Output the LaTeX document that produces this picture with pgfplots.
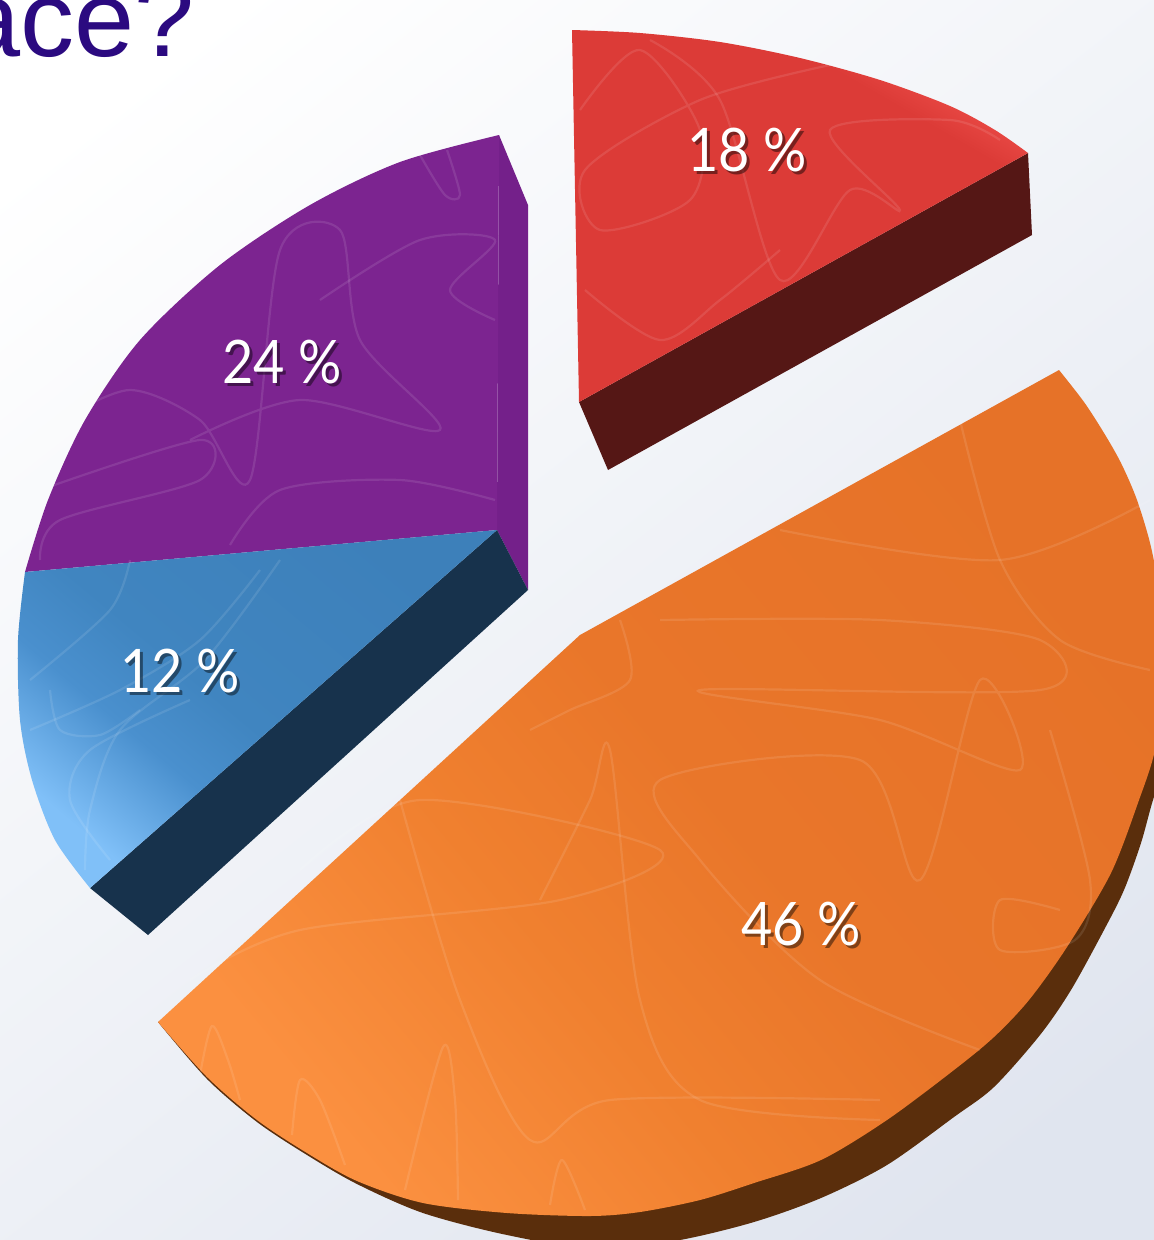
\documentclass[border=0pt]{standalone}
\usepackage{pgfplots}
\pgfplotsset{compat=1.18}
\usepackage{fontspec}
\setmainfont{Liberation Sans}
\newfontfamily\gill{Lato}
\definecolor{titlec}{HTML}{2B0A80}
\definecolor{redface}{HTML}{DC3B37}
\definecolor{redlight}{HTML}{F0504C}
\definecolor{redside}{HTML}{551715}
\definecolor{purpface}{HTML}{7C2490}
\definecolor{purpside}{HTML}{74208A}
\definecolor{blueside}{HTML}{17324C}
\definecolor{orangeside}{HTML}{5A2E0C}
\definecolor{bgA}{HTML}{FFFFFF}
\definecolor{bgB}{HTML}{E0E5EF}
\definecolor{blA}{HTML}{80C0F8}
\definecolor{blB}{HTML}{4A90CE}
\definecolor{blC}{HTML}{4085C0}
\definecolor{blD}{HTML}{3D80BA}
\definecolor{orA}{HTML}{FB9040}
\definecolor{orB}{HTML}{F0802F}
\definecolor{orC}{HTML}{E9762A}
\definecolor{orD}{HTML}{E67228}
\pgfdeclareverticalshading{blueS}{100bp}{color(0bp)=(blA);color(25bp)=(blA);color(38bp)=(blB);color(48bp)=(blC);color(75bp)=(blD);color(100bp)=(blD)}
\pgfdeclareverticalshading{orangeS}{100bp}{color(0bp)=(orA);color(25bp)=(orA);color(40bp)=(orB);color(52bp)=(orC);color(75bp)=(orD);color(100bp)=(orD)}
\pgfdeclareverticalshading{redS}{100bp}{color(0bp)=(redface);color(68bp)=(redface);color(75bp)=(redlight);color(100bp)=(redlight)}
\pgfdeclareverticalshading{bgS}{100bp}{color(0bp)=(bgB);color(25bp)=(bgB);color(75bp)=(bgA);color(100bp)=(bgA)}
\newcommand{\lab}[3]{%
 \node[text=black,opacity=.45,font=\gill\fontsize{60}{60}\selectfont,inner sep=0pt,xscale=.9] at (axis cs:#1+3,#2+3) {#3};
 \node[text=white,font=\gill\fontsize{60}{60}\selectfont,inner sep=0pt,xscale=.9] at (axis cs:#1,#2) {#3};}
\pgfplotsset{swirl/.style={white,opacity=.1,line width=2.2pt,smooth}}
\begin{document}
\begin{tikzpicture}
\clip (0,0) rectangle (1154pt,1240pt);
\begin{axis}[scale only axis,width=1154pt,height=1240pt,xmin=0,xmax=1154,ymin=0,ymax=1240,y dir=reverse,hide axis,clip=true]
% background
\addplot[draw=none,shading=bgS,shading angle=38] coordinates {(-100,-100)(1254,-100)(1254,1340)(-100,1340)} -- cycle;
% red
\addplot[draw=none,fill=redside] coordinates {(579,402)(1028,153)(1032,235)(608,470)} -- cycle;
\addplot[draw=none,shading=redS,shading angle=-30,smooth] coordinates {(572,30)(640,33)(720,42)(800,58)(880,80)(950,106)(995,130)(1028,153)} -- (axis cs:579,402) -- cycle;
\addplot[swirl] coordinates {(580,110)(640,50)(700,130)(690,200)(600,230)(585,170)(700,100)(830,65)};
\addplot[swirl] coordinates {(650,40)(720,100)(780,280)(850,190)(900,210)(830,130)(950,120)(1000,140)};
\addplot[swirl] coordinates {(585,290)(660,340)(720,300)(780,250)};
% purple
\addplot[draw=none,fill=purpside] coordinates {(499,135)(528,205)(528,590)(497,530)} -- cycle;
\addplot[draw=none,fill=purpface,smooth] coordinates {(499,135)(400,162)(310,205)(220,265)(140,340)(85,420)(48,500)(25,572)} -- (axis cs:497,530) -- cycle;
\addplot[swirl] coordinates {(40,490)(200,440)(200,480)(60,520)(40,560)};
\addplot[swirl] coordinates {(60,420)(130,390)(200,420)(250,480)(280,250)(340,230)(360,340)(440,430)(300,400)(190,440)};
\addplot[swirl] coordinates {(230,545)(280,490)(400,480)(495,500)};
\addplot[swirl] coordinates {(320,300)(420,240)(495,240)(450,290)(495,320)};
\addplot[swirl] coordinates {(420,155)(445,195)(460,195)(447,150)};
% blue
\addplot[draw=none,fill=blueside] coordinates {(497,530)(528,590)(148,935)(90,888)} -- cycle;
\addplot[draw=none,shading=blueS,shading angle=-40,smooth] coordinates {(25,572)(18,640)(20,720)(32,780)(55,840)(90,888)} -- (axis cs:497,530) -- cycle;
\addplot[swirl] coordinates {(30,680)(110,610)(130,560)};
\addplot[swirl] coordinates {(85,870)(90,810)(120,730)(205,660)(280,560)};
\addplot[swirl] coordinates {(30,730)(120,690)(200,640)(260,570)};
\addplot[swirl] coordinates {(110,860)(70,800)(90,750)(190,700)};
\addplot[swirl] coordinates {(50,690)(60,730)(100,735)(140,710)};
% orange
\addplot[draw=none,fill=orangeside,smooth] coordinates {(158,1022)(207,1079)(257,1122)(307,1155)(357,1184)(423,1213)(507,1235)(600,1250)(680,1240)(754,1222)(821,1198)(887,1165)(954,1117)(994,1087)(1040,1035)(1071,990)(1104,930)(1124,890)(1141,843)(1153,800)(1170,750)} -- cycle;
\addplot[draw=none,shading=orangeS,shading angle=-50,smooth] coordinates {(1059,370)(1084,402)(1104,433)(1121,463)(1137,500)(1151,547)(1160,600)(1165,680)(1155,750)(1139,800)(1111,873)(1067,947)(1029,1000)(994,1037)(954,1070)(887,1120)(821,1160)(754,1183)(700,1200)(640,1212)(590,1216)(507,1213)(423,1203)(357,1181)(307,1153)(257,1120)(207,1077)(158,1022)} -- (axis cs:580,635) -- cycle;
\addplot[swirl] coordinates {(300,870)(420,800)(660,850)(560,900)(300,930)(190,980)};
\addplot[swirl] coordinates {(400,800)(460,1000)(530,1140)(610,1100)(880,1100)};
\addplot[swirl] coordinates {(620,620)(630,680)(570,710)(530,730)};
\addplot[swirl] coordinates {(540,900)(590,800)(610,750)(640,1000)(700,1100)(880,1120)};
\addplot[swirl] coordinates {(660,620)(880,620)(1040,640)(1040,690)(700,690)(880,720)(1020,770)(980,680)(920,880)(860,760)(660,780)(700,860)(820,980)(980,1050)};
\addplot[swirl] coordinates {(1050,730)(1090,880)(1075,940)(1000,950)(1000,900)(1060,910)};
\addplot[swirl] coordinates {(780,530)(1000,560)(1150,500)};
\addplot[swirl] coordinates {(960,420)(1000,560)(1060,640)(1150,670)};
\addplot[swirl] coordinates {(200,1075)(212,1026)(228,1060)(240,1100)};
\addplot[swirl] coordinates {(292,1135)(300,1080)(320,1100)(345,1165)};
\addplot[swirl] coordinates {(405,1190)(443,1047)(455,1100)(458,1200)};
\addplot[swirl] coordinates {(550,1205)(562,1160)(585,1210)};
% texts
\node[anchor=base east,inner sep=0pt,text=titlec,font=\fontsize{108}{108}\selectfont] at (axis cs:195,56) {áce?};
\lab{747}{150}{18 \%}
\lab{282}{362}{24 \%}
\lab{180}{671}{12 \%}
\lab{801}{924}{46 \%}
\end{axis}
\end{tikzpicture}
\end{document}
